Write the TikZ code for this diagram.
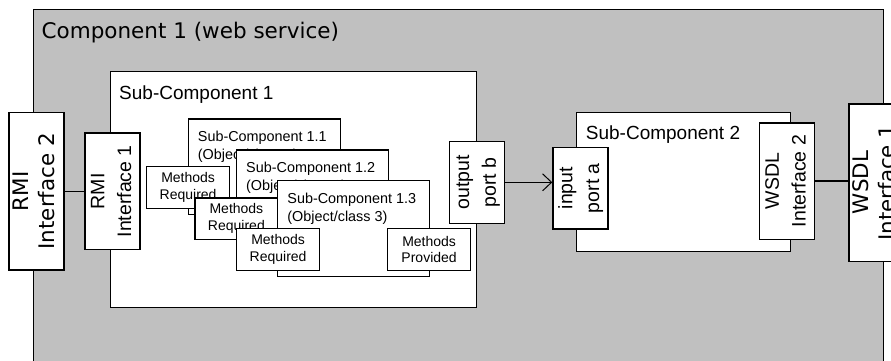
\documentclass[tikz,border=0pt]{standalone}
\usepackage{fontspec}
\setmainfont{Liberation Sans}
\newfontfamily\wideface{DejaVu Sans}
\usepackage{graphicx}
\usetikzlibrary{arrows.meta, positioning, calc}
\definecolor{compgray}{HTML}{C0C0C0}
\newcommand{\uptext}[1]{\rotatebox{90}{\begin{tabular}{@{}c@{}}#1\end{tabular}}}

\begin{document}
\begin{tikzpicture}[x=1pt, y=-1pt,
    part/.style={draw=black, line width=1.2pt, fill=white, inner sep=0pt, anchor=north west},
    classbox/.style={part, minimum width=152pt, minimum height=95.7pt},
    methodbox/.style={part, minimum width=83pt, minimum height=41.5pt, align=center,
        font=\fontsize{14}{16.7}\selectfont},
    port/.style={part, minimum width=55pt, font=\fontsize{19.5}{26.7}\selectfont},
    bigport/.style={part, minimum width=55pt, minimum height=157.3pt,
        font=\wideface\fontsize{21.4}{26.3}\selectfont},
    boxname/.style={anchor=base west, inner sep=0pt, font=\fontsize{19}{22}\selectfont},
    classname/.style={anchor=base west, inner sep=0pt, align=left,
        font=\fontsize{14.4}{17.7}\selectfont},
    link/.style={draw=black, line width=1.2pt}]
    \useasboundingbox (0,0) rectangle (891,360);
    \clip (0,0) rectangle (891,360);
    % web service
    \node[part, fill=compgray, minimum width=849.7pt, minimum height=380pt] (comp) at (33,9) {};
    \node[anchor=base west, inner sep=0pt, font=\wideface\fontsize{21.5}{25}\selectfont]
        (compname) at (41.5,38.3) {Component 1 (web service)};
    % sub-component 1 and the RMI side
    \node[part, minimum width=366pt, minimum height=236pt] (sub1) at (110,70.7) {};
    \node[boxname] (sub1name) at (119,99) {Sub-Component 1};
    \node[bigport] (rmi2) at (8.3,112) {\uptext{RMI\\Interface 2}};
    \node[port, minimum height=116.7pt] (rmi1) at (84.3,132.3) {\uptext{RMI\\Interface 1}};
    \draw[link] (rmi2) -- (rmi1);
    % objects inside sub-component 1 (base = second line)
    \node[classbox] (sub11) at (187.7,118.3) {};
    \node[classname] (sub11name) at (197.7,159.5) {Sub-Component 1.1\\(Object/class 1)};
    \node[methodbox] (req1) at (146,166) {Methods\\Required};
    \node[classbox] (sub12) at (235.7,149.3) {};
    \node[classname] (sub12name) at (246,190.4) {Sub-Component 1.2\\(Object/class 2)};
    \node[methodbox] (req2) at (194.3,197.3) {Methods\\Required};
    \node[classbox] (sub13) at (276.7,180) {};
    \node[classname] (sub13name) at (287.2,221) {Sub-Component 1.3\\(Object/class 3)};
    \node[methodbox] (req3) at (236,228) {Methods\\Required};
    \node[methodbox] (prov3) at (387,228) {Methods\\Provided};
    \node[port, minimum height=82pt] (outb) at (449,140.7) {\uptext{output\\port b}};
    % sub-component 2 and the WSDL side
    \node[part, minimum width=214pt, minimum height=138.7pt] (sub2) at (576,112) {};
    \node[boxname] (sub2name) at (585.7,139) {Sub-Component 2};
    \node[port, minimum height=81.6pt] (ina) at (552.3,146.7) {\uptext{input\\port a}};
    \node[port, minimum height=116.2pt] (wsdl2) at (758.7,122.3) {\uptext{WSDL\\Interface 2}};
    \node[bigport] (wsdl1) at (848.3,103.3) {\uptext{WSDL\\Interface 1}};
    \draw[link] (wsdl2.east) -- (wsdl2.east -| wsdl1.west);
    \draw[link, -{Straight Barb[length=9pt, width=17pt, line width=1pt]}]
        (outb.east) -- (outb.east -| ina.west);
\end{tikzpicture}
\end{document}
